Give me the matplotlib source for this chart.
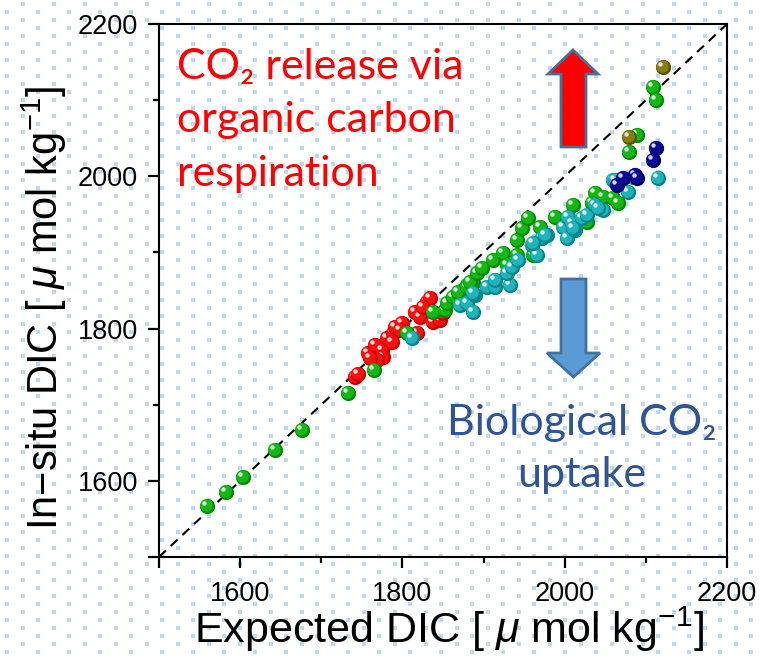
import numpy as np
import matplotlib
matplotlib.use('Agg')
import matplotlib.pyplot as plt
from matplotlib.transforms import ScaledTranslation
from matplotlib.patches import Polygon
from matplotlib.ticker import FixedLocator

# ---------------- data ----------------
green_x = [1559, 1583, 1603, 1643, 1676, 1733, 1765, 1806, 1838, 1852, 1855, 1867, 1875, 1880, 1887,
           1862, 1868, 1880, 1883, 1892, 1898, 1912, 1924, 1929, 1941, 1941, 1947, 1955, 1969, 1961,
           1988, 2010, 2027, 2037, 2047, 2059, 2066, 2034, 2109, 2112, 2089, 2079]
green_y = [1567, 1585, 1605, 1640, 1667, 1715, 1746, 1794, 1822, 1824, 1834, 1844, 1851, 1857, 1860,
           1841, 1848, 1855, 1861, 1873, 1880, 1890, 1899, 1883, 1897, 1916, 1932, 1945, 1933, 1897,
           1947, 1962, 1940, 1978, 1973, 1971, 1965, 1965, 2117, 2100, 2054, 2032]

red_x = [1742, 1745, 1758, 1766, 1775, 1776, 1769, 1760, 1781, 1788, 1791, 1799, 1797, 1787,
         1818, 1818, 1815, 1822, 1830, 1834, 1825, 1838, 1846, 1850]
red_y = [1736, 1740, 1768, 1778, 1772, 1763, 1759, 1761, 1788, 1794, 1802, 1807, 1798, 1782,
         1794, 1820, 1822, 1815, 1835, 1840, 1828, 1809, 1811, 1820]

teal_x = [1812, 1871, 1880, 1887, 1889, 1887, 1904, 1914, 1914, 1933, 1929, 1935, 1942, 1960,
          1966, 1972, 1978, 1998, 2003, 2004, 2009, 2013, 2021, 2027, 2037, 2047, 2059, 2078,
          2084, 2115, 2062, 2010, 2041, 1976, 1961]
teal_y = [1788, 1831, 1834, 1822, 1844, 1847, 1855, 1855, 1864, 1857, 1873, 1881, 1890, 1910,
          1897, 1919, 1923, 1933, 1919, 1947, 1939, 1930, 1945, 1949, 1962, 1956, 1995, 1979,
          1999, 1998, 1995, 1932, 1958, 1923, 1912]

navy_x = [2064, 2072, 2087, 2112, 2109, 2089]
navy_y = [1989, 1998, 2002, 2037, 2021, 1998]

olive_x = [2121, 2079]
olive_y = [2144, 2052]

x_ticks = [1500, 1600, 1800, 2000, 2200]
x_ticklabels = ['', '1600', '1800', '2000', '2200']
y_ticks = [1500, 1600, 1800, 2000, 2200]
y_ticklabels = ['', '1600', '1800', '2000', '2200']
minor_ticks = [1700, 1900, 2100]

# ---------------- figure ----------------
W, H = 761, 658
fig = plt.figure(figsize=(W / 100, H / 100), dpi=100)
fig.patch.set_facecolor('white')

plt.rcParams['mathtext.fontset'] = 'custom'
plt.rcParams['mathtext.rm'] = 'Liberation Sans'
plt.rcParams['mathtext.it'] = 'Liberation Sans:italic'


def fx(px):
    return px / W


def fy(py):
    return 1 - py / H


# dotted background pattern
bg = fig.add_axes([0, 0, 1, 1], zorder=0)
bg.set_xlim(0, W)
bg.set_ylim(H, 0)
bg.axis('off')
ra_x, ra_y = np.meshgrid(np.arange(7.3, W, 31), np.arange(11.5, H, 16))
rb_x, rb_y = np.meshgrid(np.arange(23.0, W, 31), np.arange(3.5, H, 16))
bg.scatter(np.concatenate([ra_x.ravel(), rb_x.ravel()]),
           np.concatenate([ra_y.ravel(), rb_y.ravel()]),
           marker='s', s=6.5, color='#bdd7ee', linewidths=0)

ax = fig.add_axes([fx(159), fy(557), 568 / W, 533 / H], zorder=1)
ax.patch.set_alpha(0)
ax.set_xlim(1500, 2200)
ax.set_ylim(1500, 2200)

# 1:1 line
ax.plot([1500, 2200], [1500, 2200], color='black', lw=1.5, dashes=(4.5, 3.2), zorder=2)

# spheres
off_in = ScaledTranslation(-1.0 / 100, 1.0 / 100, fig.dpi_scale_trans)
off_hi = ScaledTranslation(-3.0 / 100, 3.0 / 100, fig.dpi_scale_trans)

series = [
    (red_x, red_y, '#c80000', '#ff1010'),
    (green_x, green_y, '#008c00', '#14b814'),
    (teal_x, teal_y, '#00878d', '#20b4ba'),
    (navy_x, navy_y, '#00005e', '#0a0a9a'),
    (olive_x, olive_y, '#5a5200', '#878010'),
]
z = 3.0
for xs, ys, dark, main in series:
    for x, y in zip(xs, ys):
        ax.scatter([x], [y], s=120, color=dark, linewidths=0, zorder=z, clip_on=False)
        ax.scatter([x], [y], s=82, color=main, linewidths=0, zorder=z + 0.001,
                   transform=ax.transData + off_in, clip_on=False)
        ax.scatter([x], [y], s=10, color='white', alpha=0.85, linewidths=0, zorder=z + 0.002,
                   transform=ax.transData + off_hi, clip_on=False)
        z += 0.01

# axes styling
for sp in ax.spines.values():
    sp.set_linewidth(1.5)
    sp.set_color('black')
ax.xaxis.set_major_locator(FixedLocator(x_ticks))
ax.yaxis.set_major_locator(FixedLocator(y_ticks))
ax.xaxis.set_minor_locator(FixedLocator(minor_ticks))
ax.yaxis.set_minor_locator(FixedLocator(minor_ticks))
ax.set_xticklabels(x_ticklabels)
ax.set_yticklabels(y_ticklabels)
ax.tick_params(which='major', direction='out', length=8, width=1.6, pad=7,
               labelsize=19.5, top=False, right=False)
ax.tick_params(axis='x', which='major', pad=9)
ax.tick_params(which='minor', direction='out', length=4.3, width=1.6, top=False, right=False)
for lab in ax.get_xticklabels() + ax.get_yticklabels():
    lab.set_fontfamily('Liberation Sans')

fig.text(fx(449), fy(643), 'Expected DIC [ $\\mu$ mol kg$^{-1}$]', ha='center', va='baseline',
         fontsize=31, family='Liberation Sans')
fig.text(fx(58), fy(308), 'In\u2212situ DIC [ $\\mu$ mol kg$^{-1}$]', ha='center', va='baseline',
         rotation=90, rotation_mode='anchor', fontsize=30, family='Liberation Sans')

# annotations
red_font = dict(fontsize=31, family=['Lato', 'DejaVu Sans'], color='#ff0000', va='baseline')
fig.text(fx(177), fy(79), 'CO\u2082 release via', **red_font)
fig.text(fx(177), fy(132), 'organic carbon', **red_font)
fig.text(fx(177), fy(186), 'respiration', **red_font)

blue_font = dict(fontsize=31, family=['Lato', 'DejaVu Sans'], color='#2f5597', va='baseline')
fig.text(fx(582), fy(435), 'Biological CO\u2082', ha='center', **blue_font)
fig.text(fx(582), fy(487), 'uptake', ha='center', **blue_font)

# arrows
up = [(561, 147), (561, 74), (548, 74), (573, 50), (598, 74), (586, 74), (586, 147)]
down = [(561, 279), (586, 279), (586, 353), (600, 353), (573.5, 377), (547, 353), (561, 353)]
fig.patches.append(Polygon([(fx(a), fy(b)) for a, b in up], closed=True, transform=fig.transFigure,
                           facecolor='#ff0000', edgecolor='#41719c', lw=2, zorder=5))
fig.patches.append(Polygon([(fx(a), fy(b)) for a, b in down], closed=True, transform=fig.transFigure,
                           facecolor='#5b9bd5', edgecolor='#41719c', lw=2, zorder=5))

fig.savefig('out.png', dpi=100)
